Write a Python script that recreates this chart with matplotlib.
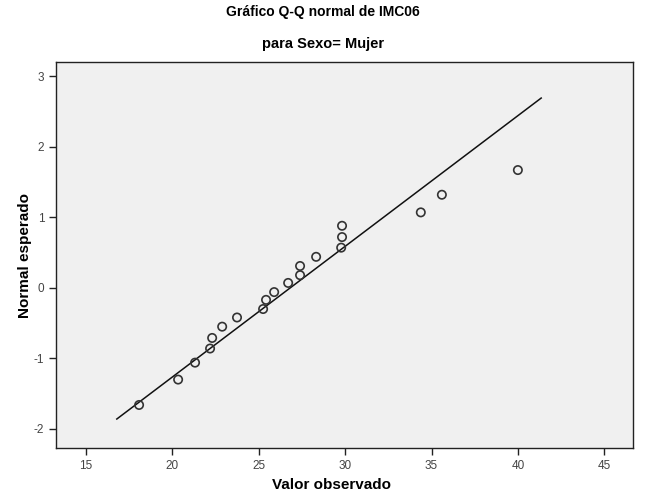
import numpy as np
import matplotlib
matplotlib.use("Agg")
import matplotlib.pyplot as plt

# IMC06 values for Sexo = Mujer and their expected normal scores
observado = [18.07, 20.33, 21.31, 22.18, 22.30, 22.88, 23.74, 25.25, 25.42, 25.89,
             26.70, 27.39, 27.39, 28.32, 29.77, 29.82, 29.82, 34.38, 35.60, 40.00]
esperado = [-1.66, -1.30, -1.06, -0.86, -0.71, -0.55, -0.42, -0.30, -0.17, -0.06,
            0.07, 0.18, 0.31, 0.44, 0.57, 0.72, 0.88, 1.07, 1.32, 1.67]

# reference line y = (x - mean) / sd
LINE_MEAN = 26.82
LINE_SD = 5.40
LINE_X = [16.78, 41.35]

x_ticks = [15, 20, 25, 30, 35, 40, 45]
y_ticks = [-2, -1, 0, 1, 2, 3]

plt.rcParams["font.family"] = ["Liberation Sans Narrow", "Liberation Sans", "DejaVu Sans"]
plt.rcParams["axes.unicode_minus"] = False

fig = plt.figure(figsize=(6.46, 4.97), dpi=100)
ax = fig.add_axes([0.0867, 0.0986, 0.8933, 0.7764])
ax.set_facecolor("#f0f0f0")

lx = np.array(LINE_X)
ax.plot(lx, (lx - LINE_MEAN) / LINE_SD, color="#111111", lw=1.1, zorder=2)
ax.scatter(observado, esperado, s=36, facecolors="none", edgecolors="#333333",
           linewidths=1.2, zorder=3)

ax.set_xlim(13.26, 46.67)
ax.set_ylim(-2.27, 3.2)
ax.set_xticks(x_ticks)
ax.set_yticks(y_ticks)
ax.tick_params(direction="out", length=5, width=1, color="#222222",
               labelsize=8.5, labelcolor="#444444")
for s in ax.spines.values():
    s.set_color("#222222")
    s.set_linewidth(1.0)

ax.set_xlabel("Valor observado", fontsize=11, fontweight="bold")
ax.xaxis.set_label_coords(0.477, -0.078)
ax.set_ylabel("Normal esperado", fontsize=11, fontweight="bold", labelpad=1)

fig.text(0.5, 0.975, "Gráfico Q-Q normal de IMC06", ha="center", va="center",
         fontsize=10, fontweight="bold")
fig.text(0.5, 0.911, "para Sexo= Mujer", ha="center", va="center",
         fontsize=10.5, fontweight="bold")

fig.savefig("out.png", dpi=100)
